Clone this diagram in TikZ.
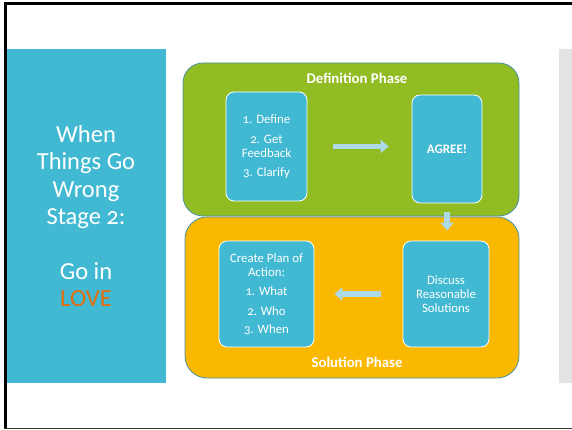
\documentclass[tikz,border=0pt]{standalone}
\usepackage{fontspec}
\setmainfont{Carlito}[Numbers=OldStyle]
\usetikzlibrary{arrows.meta}
\definecolor{cyanbox}{HTML}{42B9D3}
\definecolor{greenbox}{HTML}{92BC23}
\definecolor{orangebox}{HTML}{FBB800}
\definecolor{arrowblue}{HTML}{ADDAE6}
\definecolor{graypanel}{HTML}{E3E3E3}
\definecolor{edgeteal}{HTML}{4A90A4}
\definecolor{loveorange}{HTML}{E46C0A}
\tikzset{
  phasebox/.style={draw=edgeteal, line width=0.8pt, rounded corners=20pt, inner sep=0pt},
  stepbox/.style={fill=cyanbox, draw=white, line width=0.8pt, rounded corners=8pt,
    inner sep=0pt, align=center, text=white, font=\fontsize{12.8}{14.3}\selectfont},
  phasetitle/.style={text=white, font=\bfseries\fontsize{14.8}{17}\selectfont, inner sep=0pt},
  blockarrow/.style={draw=arrowblue, line width=5.5pt, -{Triangle[width=13pt,length=8pt]}}
}
\begin{document}
\begin{tikzpicture}[x=1pt,y=-1pt]
\useasboundingbox (0,0) rectangle (572,430);
% slide frame
\draw[line width=3pt] (4,3.5) -- (572,3.5);
\draw[line width=2.7pt] (5.35,2) -- (5.35,429);
\draw[line width=1pt, black!80] (4,428.4) -- (572,428.4);
% side panels
\fill[cyanbox] (6.7,49) rectangle (165.7,382.7);
\fill[graypanel] (559,49) rectangle (572,383);
\node[text=white, align=center, font=\fontsize{24.5}{27.3}\selectfont, inner sep=0pt] (title) at (86,216)
  {When\\Things Go\\Wrong\\Stage 2:\\~\\Go in\\\textcolor{loveorange}{LOVE}};
% phase containers
\node[phasebox, fill=greenbox, minimum width=336pt, minimum height=153pt] (defphase) at (351,139.5) {};
\node[phasebox, fill=orangebox, minimum width=334pt, minimum height=161pt, rounded corners=22pt] (solphase) at (352,297.5) {};
\node[phasetitle] (deftitle) at (357,78) {Definition Phase};
\node[phasetitle] (soltitle) at (357,362) {Solution Phase};
% steps
\node[stepbox, minimum width=81pt, minimum height=109pt] (def) at (266.5,146.5)
  {1. Define\\[5.5pt]2. Get\\Feedback\\[4.5pt]3. Clarify};
\node[stepbox, minimum width=70pt, minimum height=108pt, font=\bfseries\fontsize{13}{15}\selectfont] (agree) at (447,149) {AGREE!};
\node[stepbox, minimum width=86pt, minimum height=106pt] (discuss) at (446,294)
  {Discuss\\Reasonable\\Solutions};
\node[stepbox, minimum width=95pt, minimum height=106pt] (plan) at (266.5,294)
  {Create Plan of\\Action:\\[4.5pt]1. What\\[5.5pt]2. Who\\[4pt]3. When};
% connectors
\draw[blockarrow, shorten <=26pt, shorten >=23pt] (def.east) -- (def.east -| agree.west);
\draw[blockarrow, shorten <=9pt, shorten >=10pt] (agree.south) -- (agree.south |- discuss.north);
\draw[blockarrow, shorten <=22pt, shorten >=20pt] (discuss.west) -- (plan.east);
\end{tikzpicture}
\end{document}
